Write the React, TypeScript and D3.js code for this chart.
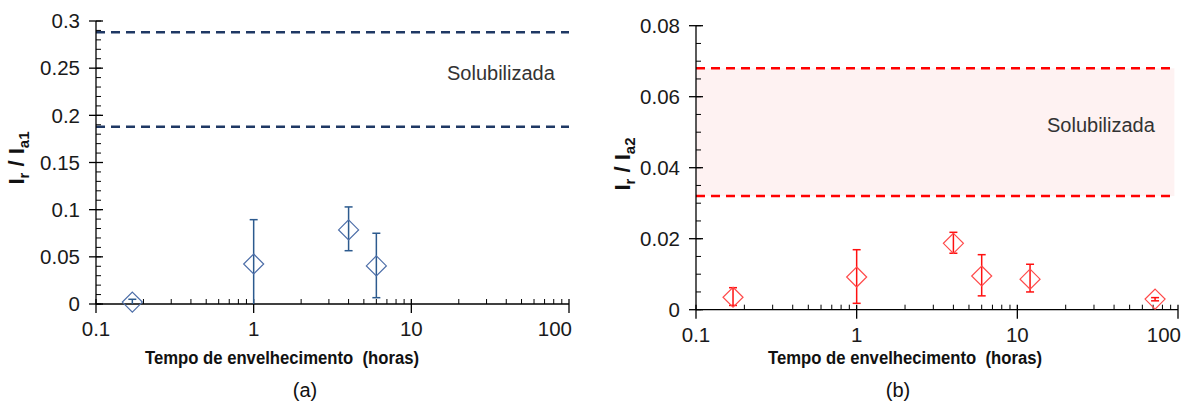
import React from 'react';
import * as d3 from 'd3';

// panel (a)
const timesA = [0.17, 1, 4, 6];
const valuesA = [0.002, 0.0424, 0.0785, 0.0404];
const upperA = [0.005, 0.0894, 0.1029, 0.075];
const lowerA = [0, 0, 0.0565, 0.0067];
const solubA = [0.188, 0.288];
const yTicksA = [0, 0.05, 0.1, 0.15, 0.2, 0.25, 0.3];

// panel (b)
const timesB = [0.17, 1, 4, 6, 12, 72];
const valuesB = [0.0035, 0.0092, 0.0187, 0.0095, 0.0086, 0.003];
const upperB = [0.0062, 0.0169, 0.0218, 0.0155, 0.0128, 0.0034];
const lowerB = [0.0012, 0.0018, 0.0159, 0.0039, 0.005, 0.0025];
const solubB = [0.032, 0.068];
const yTicksB = [0, 0.02, 0.04, 0.06, 0.08];

const xTicks = [0.1, 1, 10, 100];
const xLabel = 'Tempo de envelhecimento\u00a0 (horas)';
const bandLabel = 'Solubilizada';

const FONT = 'Liberation Sans, Arial, sans-serif';

type PanelProps = {
  left: number; right: number; top: number; bottom: number;
  yMax: number; yTicks: number[]; yMinorStep: number; fmt: (v: number) => string;
  times: number[]; values: number[]; upper: number[]; lower: number[];
  band: number[]; bandEnd: number; showFill: boolean;
  dashColor: string; barColor: string; markColor: string;
  sub: string; caption: string; labelX: number; labelY: number;
  textX: number; textY: number; titleX: number; captionX: number;
};

function Panel(p: PanelProps) {
  const x = d3.scaleLog().domain([0.1, 100]).range([p.left, p.right]);
  const y = d3.scaleLinear().domain([0, p.yMax]).range([p.bottom, p.top]);
  const minorX: number[] = [];
  [0.1, 1, 10].forEach(d => { for (let k = 2; k <= 9; k++) minorX.push(d * k); });
  const minorY = d3.range(0, p.yMax + 1e-9, p.yMinorStep);
  const h = 10;

  return (
    <g fontFamily={FONT}>
      {p.showFill && (
        <rect x={p.left} y={y(p.band[1])} width={x(p.bandEnd) - p.left}
          height={y(p.band[0]) - y(p.band[1])} fill="#fef2f2" />
      )}
      {p.band.map((v, i) => (
        <line key={'b' + i} x1={p.left} x2={x(p.bandEnd)} y1={y(v)} y2={y(v)}
          stroke={p.dashColor} strokeWidth={2.5} strokeDasharray="9,6" />
      ))}

      {/* y axis */}
      <line x1={p.left} x2={p.left} y1={p.top} y2={p.bottom} stroke="#000" strokeWidth={1.3} />
      {minorY.map((v, i) => (
        <line key={'my' + i} x1={p.left} x2={p.left + 5} y1={y(v)} y2={y(v)} stroke="#000" strokeWidth={1} />
      ))}
      {p.yTicks.map(v => (
        <g key={'y' + v}>
          <line x1={p.left - 7} x2={p.left + 7} y1={y(v)} y2={y(v)} stroke="#000" strokeWidth={1.3} />
          <text x={p.left - 16} y={y(v)} dy="0.35em" textAnchor="end" fontSize={20.5} fill="#1a1a1a">{p.fmt(v)}</text>
        </g>
      ))}

      {/* x axis */}
      <line x1={p.left} x2={p.right} y1={p.bottom} y2={p.bottom} stroke="#000" strokeWidth={1.3} />
      {minorX.map((v, i) => (
        <line key={'mx' + i} x1={x(v)} x2={x(v)} y1={p.bottom} y2={p.bottom - 5} stroke="#000" strokeWidth={1} />
      ))}
      {xTicks.map((v, i) => {
        const last = i === xTicks.length - 1;
        return (
          <g key={'x' + v}>
            <line x1={x(v)} x2={x(v)} y1={p.bottom - 5} y2={p.bottom + 9} stroke="#000" strokeWidth={1.3} />
            <text x={last ? x(v) + 3 : x(v)} y={p.bottom + 32} textAnchor={last ? 'end' : 'middle'}
              fontSize={20.5} fill="#1a1a1a">{String(v)}</text>
          </g>
        );
      })}

      {/* error bars and markers */}
      {p.times.map((t, i) => {
        const cx = x(t);
        const cy = y(p.values[i]);
        const yu = y(p.upper[i]);
        const yl = y(p.lower[i]);
        return (
          <g key={'pt' + i}>
            <line x1={cx} x2={cx} y1={yu} y2={yl} stroke={p.barColor} strokeWidth={1.5} />
            <line x1={cx - 4} x2={cx + 4} y1={yu} y2={yu} stroke={p.barColor} strokeWidth={1.5} />
            {p.lower[i] > 0 && (
              <line x1={cx - 4} x2={cx + 4} y1={yl} y2={yl} stroke={p.barColor} strokeWidth={1.5} />
            )}
            <path d={`M${cx},${cy - h}L${cx + h},${cy}L${cx},${cy + h}L${cx - h},${cy}Z`}
              fill="none" stroke={p.markColor} strokeWidth={1.2} />
          </g>
        );
      })}

      <text x={p.textX} y={p.textY} fontSize={20} fill="#333">{bandLabel}</text>

      <text x={p.titleX} y={364} textAnchor="middle" fontSize={18} fontWeight="bold" fill="#111"
        textLength={274} lengthAdjust="spacingAndGlyphs">{xLabel}</text>
      <text x={p.captionX} y={397} textAnchor="middle" fontSize={20} fill="#111">{p.caption}</text>

      <text transform={`translate(${p.labelX},${p.labelY}) rotate(-90)`} textAnchor="middle"
        fontSize={22} fontWeight="bold" fill="#111">
        <tspan>I</tspan>
        <tspan dy={5} fontSize={15}>r</tspan>
        <tspan dy={-5}>{' / I'}</tspan>
        <tspan dy={5} fontSize={15}>{p.sub}</tspan>
      </text>
    </g>
  );
}

export default function App() {
  return (
    <svg width={1196} height={401} style={{ position: 'fixed', left: 0, top: 0, background: '#fff' }}>
      <Panel left={96} right={569} top={21} bottom={304} yMax={0.3} yTicks={yTicksA} yMinorStep={0.01}
        fmt={v => String(+v.toFixed(2))}
        times={timesA} values={valuesA} upper={upperA} lower={lowerA}
        band={solubA} bandEnd={100} showFill={false}
        dashColor="#1f3864" barColor="#2c5a8e" markColor="#4d6ea8"
        sub="a1" caption="(a)" labelX={24} labelY={158} textX={447} textY={80}
        titleX={282} captionX={305} />
      <Panel left={696} right={1178} top={25.7} bottom={309.7} yMax={0.08} yTicks={yTicksB} yMinorStep={0.005}
        fmt={v => (v === 0 ? '0' : v.toFixed(2))}
        times={timesB} values={valuesB} upper={upperB} lower={lowerB}
        band={solubB} bandEnd={95} showFill={true}
        dashColor="#ff0000" barColor="#ff1010" markColor="#ff4a4a"
        sub="a2" caption="(b)" labelX={630} labelY={164} textX={1047} textY={132}
        titleX={905} captionX={898} />
    </svg>
  );
}
